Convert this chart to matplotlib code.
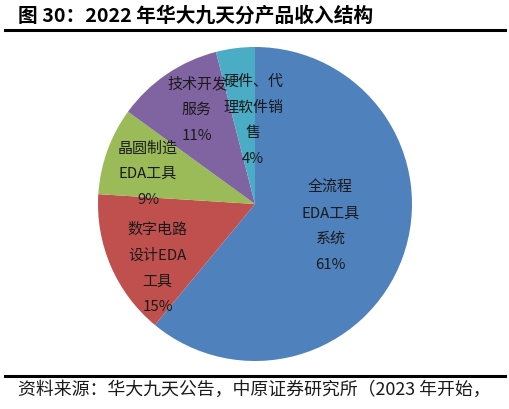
import numpy as np
import matplotlib
matplotlib.use("Agg")
import matplotlib.pyplot as plt
from matplotlib.lines import Line2D

plt.rcParams['font.family'] = ['Noto Sans CJK SC', 'DejaVu Sans']

# Data
categories = ['全流程\nEDA工具\n系统', '数字电路\n设计EDA\n工具', '晶圆制造\nEDA工具', '技术开发\n服务', '硬件、代\n理软件销\n售']
values = [61, 15, 9, 11, 4]
title = '图 30：2022 年华大九天分产品收入结构'
source = '资料来源：华大九天公告，中原证券研究所（2023 年开始，'

colors = ['#4F81BD', '#C0504D', '#9BBB59', '#8064A2', '#4BACC6']
label_r = [0.50, 0.74, 0.71, 0.71, 0.54]
label_da = [4, 9.6, 3.6, -2.8, -6]

fig = plt.figure(figsize=(5.1, 4.1), dpi=100)
W, H = 510, 410
cx, cy, r = 255, 205, 157
ax = fig.add_axes([(cx - r) / W, (H - cy - r) / H, 2 * r / W, 2 * r / H])
wedges, _ = ax.pie(values, colors=colors, startangle=90, counterclock=False,
                   wedgeprops=dict(linewidth=0), radius=1)
ax.set_xlim(-1, 1)
ax.set_ylim(-1, 1)
ax.set_aspect('auto')
ax.axis('off')

for w, cat, v, lr, da in zip(wedges, categories, values, label_r, label_da):
    mid = np.deg2rad((w.theta1 + w.theta2) / 2 + da)
    ax.text(lr * np.cos(mid), lr * np.sin(mid), f'{cat}\n{v}%',
            ha='center', va='center', fontsize=10.8, linespacing=2.05,
            color='#1a1a1a')

fig.text(18 / W, 1 - 16 / H, title, fontsize=14.2, fontweight='bold',
         ha='left', va='center', color='black')
fig.add_artist(Line2D([5 / W, 505 / W], [1 - 31 / H, 1 - 31 / H],
                      color='black', linewidth=2.2, transform=fig.transFigure))
fig.add_artist(Line2D([5 / W, 505 / W], [1 - 377 / H, 1 - 377 / H],
                      color='black', linewidth=2.2, transform=fig.transFigure))
fig.text(18 / W, 1 - 390 / H, source, fontsize=12.9, ha='left', va='center',
         color='#1a1a1a')

fig.savefig('out.png', dpi=100)
